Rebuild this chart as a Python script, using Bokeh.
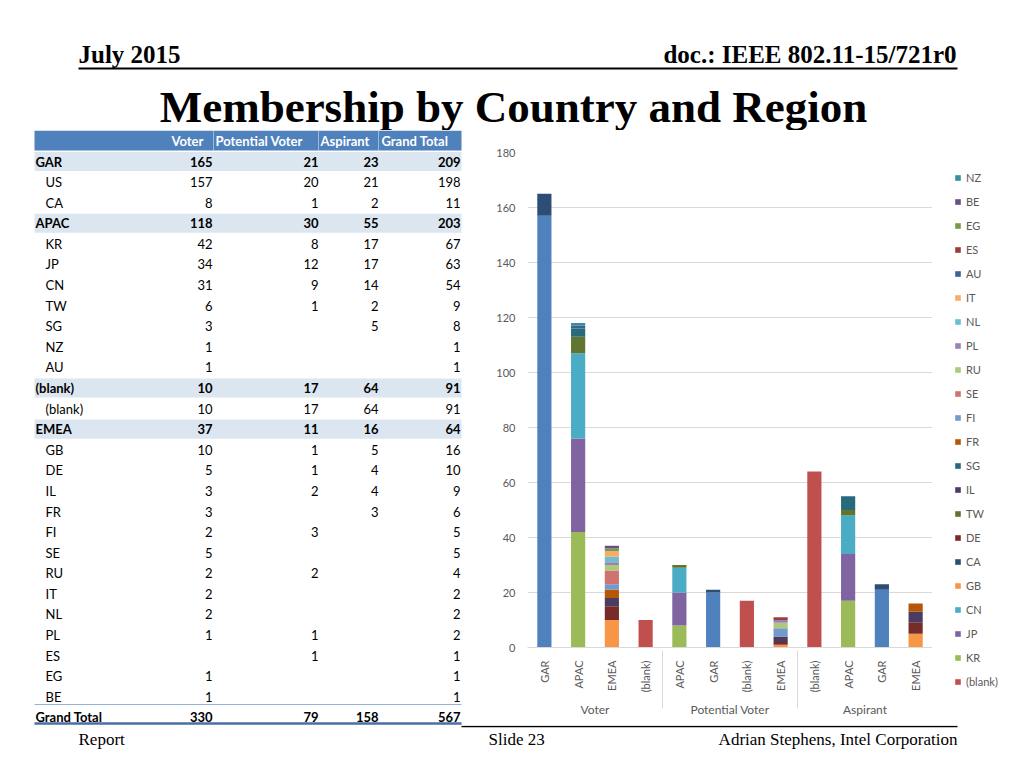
import math
from bokeh.plotting import figure
from bokeh.layouts import column, row
from bokeh.models import (Range1d, FactorRange, ColumnDataSource, Legend, LegendItem,
                          SingleIntervalTicker)
from bokeh.core.properties import value
from bokeh.embed import file_html
from bokeh.resources import INLINE

# ---------------- data ----------------
header_left = "July 2015"
header_right = "doc.: IEEE 802.11-15/721r0"
title = "Membership by Country and Region"
footer_left = "Report"
footer_mid = "Slide 23"
footer_right = "Adrian Stephens, Intel Corporation"

table_columns = ["Voter", "Potential Voter", "Aspirant", "Grand Total"]
table_labels = ["GAR", "US", "CA", "APAC", "KR", "JP", "CN", "TW", "SG", "NZ", "AU",
                "(blank)", "(blank)", "EMEA", "GB", "DE", "IL", "FR", "FI", "SE", "RU",
                "IT", "NL", "PL", "ES", "EG", "BE", "Grand Total"]
table_level = ["region", "country", "country", "region", "country", "country", "country",
               "country", "country", "country", "country", "region", "country", "region",
               "country", "country", "country", "country", "country", "country", "country",
               "country", "country", "country", "country", "country", "country", "total"]
table_voter = [165, 157, 8, 118, 42, 34, 31, 6, 3, 1, 1, 10, 10, 37, 10, 5, 3, 3, 2, 5, 2,
               2, 2, 1, None, 1, 1, 330]
table_potential = [21, 20, 1, 30, 8, 12, 9, 1, None, None, None, 17, 17, 11, 1, 1, 2, None,
                   3, None, 2, None, None, 1, 1, None, None, 79]
table_aspirant = [23, 21, 2, 55, 17, 17, 14, 2, 5, None, None, 64, 64, 16, 5, 4, 4, 3, None,
                  None, None, None, None, None, None, None, None, 158]
table_total = [209, 198, 11, 203, 67, 63, 54, 9, 8, 1, 1, 91, 91, 64, 16, 10, 9, 6, 5, 5, 4,
               2, 2, 2, 1, 1, 1, 567]

measures = ["Voter", "Potential Voter", "Aspirant"]
region_order = {
    "Voter": ["GAR", "APAC", "EMEA", "(blank)"],
    "Potential Voter": ["APAC", "GAR", "(blank)", "EMEA"],
    "Aspirant": ["(blank)", "APAC", "GAR", "EMEA"],
}
series = ["US", "(blank)", "KR", "JP", "CN", "GB", "CA", "DE", "TW", "IL", "SG", "FR", "FI",
          "SE", "RU", "PL", "NL", "IT", "AU", "ES", "EG", "BE", "NZ"]
series_colors = ["#4F81BD", "#C0504D", "#9BBB59", "#8064A2", "#4BACC6", "#F79646",
                 "#2C4D75", "#772C2A", "#5F7530", "#4D3B62", "#276A7C", "#B65708",
                 "#729ACA", "#CD7371", "#AFC97A", "#9983B5", "#6FBDD1", "#F9AB6B",
                 "#3A6495", "#9B3D3B", "#7E9945", "#675083", "#3A8DA3"]
legend_hidden = ["US"]

SERIF = "Liberation Serif"
SANS = "Lato"


def blank_fig(w, h, x0, x1, ytop, ybot):
    f = figure(width=w, height=h, x_range=Range1d(x0, x1), y_range=Range1d(ybot, ytop),
               x_axis_type=None, y_axis_type=None, toolbar_location=None,
               output_backend="svg", min_border=0, outline_line_color=None,
               frame_align=False)
    f.grid.visible = False
    return f


# ---------------- header / title ----------------
top = blank_fig(1016, 130, 0, 1016, 0, 130)
top.text(x=[78], y=[54], text=[header_left], text_font=value(SERIF), text_font_style="bold",
         text_font_size="25px", text_baseline="middle", text_align="left", text_color="black")
top.text(x=[956], y=[54], text=[header_right], text_font=value(SERIF), text_font_style="bold",
         text_font_size="25px", text_baseline="middle", text_align="right", text_color="black")
top.segment(x0=[78], y0=[68], x1=[957], y1=[68], line_color="black", line_width=2)
top.text(x=[513], y=[106], text=[title], text_font=value(SERIF), text_font_style="bold",
         text_font_size="45px", text_baseline="middle", text_align="center", text_color="black")

# ---------------- table ----------------
tab = blank_fig(470, 595, 0, 470, 130, 725)
T_LEFT, T_RIGHT = 34, 461
ROW_Y0, ROW_H = 161, 20.59
HEAD_TOP, HEAD_BOT = 130, 150
col_right = [212, 318, 378, 460]
col_head_x = [171, 215, 320, 381]

tab.quad(left=[T_LEFT], right=[T_RIGHT], top=[HEAD_TOP], bottom=[HEAD_BOT],
         fill_color="#4F81BD", line_color=None)
tab.segment(x0=[213, 318, 378], y0=[HEAD_TOP] * 3, x1=[213, 318, 378], y1=[HEAD_BOT] * 3,
            line_color="white", line_alpha=0.45, line_width=1)
tab.text(x=col_head_x, y=[140] * 4, text=table_columns, text_font=value(SANS),
         text_font_style="bold", text_font_size="13px", text_color="white",
         text_baseline="middle", text_align="left")

ys = [ROW_Y0 + i * ROW_H for i in range(len(table_labels))]
band_y = [y for y, lv in zip(ys, table_level) if lv == "region"]
tab.quad(left=T_LEFT, right=T_RIGHT, top=[y - 9.6 for y in band_y],
         bottom=[y + 9.6 for y in band_y], fill_color="#DCE6F1", line_color=None)

bold_lbl = dict(x=[], y=[], t=[])
norm_lbl = dict(x=[], y=[], t=[])
for lab, lv, y in zip(table_labels, table_level, ys):
    if lv == "country":
        norm_lbl["x"].append(45); norm_lbl["y"].append(y); norm_lbl["t"].append(lab)
    else:
        bold_lbl["x"].append(35); bold_lbl["y"].append(y); bold_lbl["t"].append(lab)

bold_num = dict(x=[], y=[], t=[])
norm_num = dict(x=[], y=[], t=[])
for cx, colvals in zip(col_right, [table_voter, table_potential, table_aspirant, table_total]):
    for v, lv, y in zip(colvals, table_level, ys):
        if v is None:
            continue
        d = norm_num if lv == "country" else bold_num
        d["x"].append(cx); d["y"].append(y); d["t"].append(str(v))

for d, style, align in [(norm_lbl, "normal", "left"), (bold_lbl, "bold", "left"),
                        (norm_num, "normal", "right"), (bold_num, "bold", "right")]:
    tab.text(x="x", y="y", text="t", source=ColumnDataSource(d), text_font=value(SANS),
             text_font_style=style, text_font_size="13px", text_color="black",
             text_baseline="middle", text_align=align)

tab.segment(x0=[T_LEFT], y0=[704], x1=[T_RIGHT], y1=[704], line_color="#95B3D7", line_width=1)
tab.segment(x0=[T_LEFT], y0=[723], x1=[T_RIGHT], y1=[723], line_color="#4A6FA5",
            line_width=2.5)

# ---------------- footer ----------------
foot = blank_fig(1016, 35, 0, 1016, 725, 760)
foot.segment(x0=[T_RIGHT], y0=[726], x1=[957], y1=[726], line_color="black", line_width=1.5)
foot.text(x=[78], y=[739], text=[footer_left], text_font=value(SERIF), text_font_size="17px",
          text_baseline="middle", text_align="left", text_color="black")
foot.text(x=[488], y=[739], text=[footer_mid], text_font=value(SERIF), text_font_size="17px",
          text_baseline="middle", text_align="left", text_color="black")
foot.text(x=[957], y=[739], text=[footer_right], text_font=value(SERIF), text_font_size="17px",
          text_baseline="middle", text_align="right", text_color="black")

# ---------------- chart data derived from the table ----------------
measure_vals = {"Voter": table_voter, "Potential Voter": table_potential,
                "Aspirant": table_aspirant}
country_region = {}
country_row = {}
current_region = None
for i, (lab, lv) in enumerate(zip(table_labels, table_level)):
    if lv == "region":
        current_region = lab
    elif lv == "country":
        country_region[lab] = current_region
        country_row[lab] = i

factors = [(m, r) for m in measures for r in region_order[m]]
src = {"x": factors}
stack_cols = []
for k, c in enumerate(series):
    col = []
    for m, r in factors:
        v = measure_vals[m][country_row[c]] if country_region[c] == r else None
        col.append(v or 0)
    name = "s%d" % k
    src[name] = col
    stack_cols.append(name)
source = ColumnDataSource(src)

chart = figure(frame_width=405, frame_height=495,
               x_range=FactorRange(*factors, factor_padding=0, group_padding=0,
                                   range_padding=0),
               y_range=Range1d(0, 180), toolbar_location=None, output_backend="svg",
               min_border_left=57, min_border_right=0, min_border_top=22,
               min_border_bottom=78, outline_line_color=None, frame_align=False)

renderers = chart.vbar_stack(stackers=stack_cols, x="x", width=0.42, source=source,
                             fill_color=series_colors, line_color=None)

chart.xgrid.grid_line_color = None
chart.ygrid.grid_line_color = "#D9D9D9"
chart.yaxis.ticker = SingleIntervalTicker(interval=20, num_minor_ticks=0)
chart.yaxis.axis_line_color = None
chart.yaxis.major_tick_line_color = None
chart.yaxis.minor_tick_line_color = None
chart.yaxis.major_tick_out = 0
chart.yaxis.major_tick_in = 0
chart.yaxis.major_label_standoff = 12
chart.yaxis.major_label_text_font = SANS
chart.yaxis.major_label_text_font_size = "11px"
chart.yaxis.major_label_text_color = "#595959"

xa = chart.xaxis[0]
xa.axis_line_color = "#D9D9D9"
xa.major_tick_line_color = None
xa.minor_tick_line_color = None
xa.major_label_orientation = math.pi / 2
xa.major_label_standoff = 7
xa.major_label_text_font = SANS
xa.major_label_text_font_size = "11px"
xa.major_label_text_color = "#595959"
xa.group_text_font = SANS
xa.group_text_font_size = "12px"
xa.group_text_font_style = "normal"
xa.group_text_color = "#595959"
try:
    xa.separator_line_color = "#D9D9D9"
    xa.separator_line_width = 1
except AttributeError:
    pass

# ---------------- legend (own panel to the right of the chart) ----------------
leg_fig = figure(width=84, height=595, x_range=Range1d(0, 1), y_range=Range1d(0, 1),
                 x_axis_type=None, y_axis_type=None, toolbar_location=None,
                 output_backend="svg", min_border=0, outline_line_color=None,
                 frame_align=False)
leg_fig.grid.visible = False
items = []
for c, col in reversed(list(zip(series, series_colors))):
    if c in legend_hidden:
        continue
    # swatch-only renderer, placed outside the visible range of this panel
    r = leg_fig.quad(left=[-3], right=[-2], top=[-2], bottom=[-3],
                     fill_color=col, line_color=None)
    items.append(LegendItem(label=value(c), renderers=[r]))
legend = Legend(items=items, location=(22, 36), orientation="vertical", ncols=1,
                margin=0, padding=4, spacing=8, label_height=16,
                glyph_width=7, glyph_height=7, label_standoff=5,
                label_text_font=SANS, label_text_font_size="11px",
                label_text_color="#595959", border_line_color=None,
                background_fill_color=None)
leg_fig.add_layout(legend)

layout = column(top, row(tab, chart, leg_fig), foot)

open("out.html", "w").write(file_html(layout, INLINE))
